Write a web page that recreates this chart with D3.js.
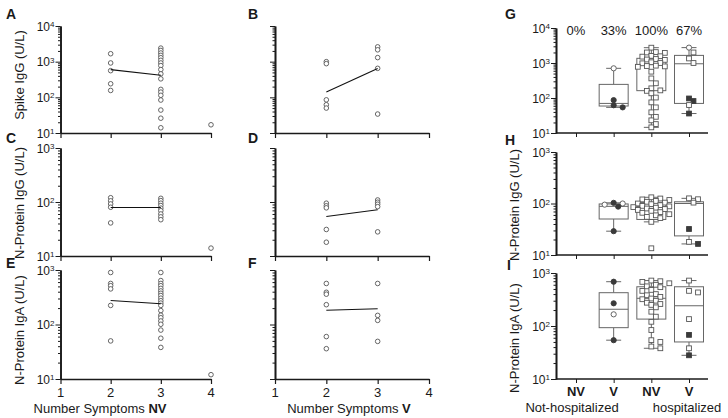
<!DOCTYPE html>
<html><head><meta charset="utf-8">
<script src="https://cdn.jsdelivr.net/npm/d3@7"></script>
<style>body{margin:0;background:#fff}svg{display:block;font-family:"Liberation Sans",Arial,sans-serif}</style>
</head><body><svg id="c" width="728" height="418"></svg>
<script>
// ---------------- DATA ----------------
const symptomTicks = [1, 2, 3, 4];
// [number of symptoms, value U/L]
const spikeNV = [[2,1670],[2,920],[2,560],[2,240],[2,156],
  [3,2400],[3,2060],[3,1750],[3,1500],[3,1290],[3,1090],[3,920],[3,775],[3,600],[3,455],[3,330],[3,167],[3,140],[3,114],[3,84],[3,44],[3,26],[3,14],
  [4,17]];
const spikeNVLine = [[2,600],[3,415]];
const spikeV = [[2,1000],[2,880],[2,85],[2,62],[2,50],[3,2600],[3,2150],[3,1300],[3,650],[3,34]];
const spikeVLine = [[2,140],[3,640]];
const nIgGNV = [[2,120],[2,105],[2,92],[2,80],[2,41],[3,117],[3,106],[3,95],[3,86],[3,77],[3,69],[3,60],[3,53],[3,47],[4,14]];
const nIgGNVLine = [[2,79],[3,79]];
const nIgGV = [[2,95],[2,85],[2,78],[2,31],[2,18],[3,109],[3,99],[3,91],[3,82],[3,28]];
const nIgGVLine = [[2,54],[3,72]];
const nIgANV = [[2,900],[2,566],[2,515],[2,450],[2,224],[2,50],
  [3,900],[3,640],[3,566],[3,515],[3,460],[3,413],[3,374],[3,340],[3,304],[3,273],[3,247],[3,224],[3,180],[3,148],[3,133],[3,116],[3,101],[3,79],[3,56],[3,38],
  [4,12]];
const nIgANVLine = [[2,275],[3,240]];
const nIgAV = [[2,566],[2,390],[2,360],[2,231],[2,60],[2,36],[3,566],[3,147],[3,119],[3,49]];
const nIgAVLine = [[2,183],[3,195]];

const groups = ["NV-nh", "V-nh", "NV-h", "V-h"];
const groupLabels = ["NV", "V", "NV", "V"];
const percentLabels = ["0%", "33%", "100%", "67%"];
// box stats per group: [min, q1, median, q3, max]
const spikeBox = [null, [54,59,70,245,705], [14.5,162,900,1360,2740], [36,70,950,1650,2750]];
const nIgGBox  = [null, [29,50,88,98,103], [44,49,87,105,132], [16.4,23.5,100,108,126]];
const nIgABox  = [null, [54,93,207,425,685], [38,135,333,550,720], [28,50,241,550,720]];
// points per group: [value, marker]  oc=open circle, fc=filled circle, os=open square, fs=filled square
const spikePts = [[],
  [[705,"oc"],[87,"fc"],[62,"fc"],[54,"fc"]],
  [2740,2050,2000,1950,1600,1560,1520,1300,1260,1230,1050,1000,980,840,820,800,780,565,363,263,189,165,160,136,103,75,54,39,29,23,18,14.5].map(v=>[v,"os"]),
  [[2750,"oc"],[2000,"os"],[1350,"os"],[1000,"os"],[97,"fs"],[82,"fs"],[63,"os"],[36,"fs"]]];
const nIgGPts = [[],
  [[103,"fc"],[100,"oc"],[95,"oc"],[87,"fc"],[29,"fc"]],
  [132,125,120,117,112,108,104,100,97,93,90,88,85,83,80,78,75,72,68,66,62,59,55,52,44,13.5].map(v=>[v,"os"]),
  [[126,"os"],[121,"os"],[104,"os"],[32,"fs"],[18,"os"],[16.4,"fs"]]];
const nIgAPts = [[],
  [[685,"fc"],[268,"fc"],[166,"oc"],[54,"fc"]],
  [720,700,680,640,600,560,540,480,460,400,380,355,330,320,300,275,260,250,225,186,150,120,84,54,50,41,38].map(v=>[v,"os"]),
  [[720,"os"],[460,"os"],[430,"os"],[135,"os"],[68,"fs"],[38,"os"],[28,"fs"]]];

// ---------------- DRAWING ----------------
const svg = d3.select("#c");
const INK = "#1a1a1a", PT = "#555", DARK = "#3a3a3a";

function logTicks(y){
  const [lo, hi] = y.domain();
  const majors = [], minors = [];
  for (let e = Math.round(Math.log10(lo)); e <= Math.round(Math.log10(hi)); e++){
    majors.push(Math.pow(10, e));
    if (e < Math.round(Math.log10(hi))) for (let m = 2; m <= 9; m++) minors.push(m*Math.pow(10, e));
  }
  return {majors, minors};
}
function yAxis(x0, y, showLabels){
  const {majors, minors} = logTicks(y);
  const g = svg.append("g").attr("transform", `translate(${x0},0)`);
  g.append("g").call(d3.axisLeft(y).tickValues(minors).tickSize(2.5).tickSizeOuter(0).tickFormat(""));
  const gm = g.append("g").call(d3.axisLeft(y).tickValues(majors).tickSize(5).tickSizeOuter(0).tickFormat(""));
  g.selectAll("path.domain").attr("stroke", INK).attr("stroke-width", 1.6);
  g.selectAll(".tick line").attr("stroke", INK);
  if (showLabels){
    gm.selectAll(".tick").each(function(d){
      const t = d3.select(this).append("text").attr("x", -6).attr("dy", "0.35em")
        .attr("text-anchor", "end").attr("fill", INK).attr("font-size", 12);
      t.append("tspan").text("10");
      t.append("tspan").attr("dy", "-0.45em").attr("font-size", 8).text(Math.round(Math.log10(d)));
    });
  }
}
function xAxisNum(x, yPos){
  const g = svg.append("g").attr("transform", `translate(0,${yPos})`)
    .call(d3.axisBottom(x).tickValues(symptomTicks).tickSize(5).tickSizeOuter(0).tickFormat(""));
  g.select("path.domain").attr("stroke", INK).attr("stroke-width", 1.6);
  g.selectAll(".tick line").attr("stroke", INK).attr("stroke-width", 1.2);
}
function scatterPanel(x, y, pts, line, labels){
  yAxis(x.range()[0], y, labels);
  xAxisNum(x, y.range()[0]);
  svg.append("g").selectAll("circle").data(pts).join("circle")
    .attr("cx", d => x(d[0])).attr("cy", d => y(d[1])).attr("r", 2.3)
    .attr("fill", "#fff").attr("stroke", PT).attr("stroke-width", 0.9);
  svg.append("path").datum(line)
    .attr("d", d3.line().x(d => x(d[0])).y(d => y(d[1])))
    .attr("stroke", "#111").attr("stroke-width", 1.1).attr("fill", "none");
}

// Left & middle columns
const xL = d3.scaleLinear().domain([1,4]).range([60.5, 211]);
const xM = d3.scaleLinear().domain([1,4]).range([275, 429]);
const yA = d3.scaleLog().domain([10, 1e4]).range([133, 26]);
const yC = d3.scaleLog().domain([10, 1e3]).range([256, 148]);
const yE = d3.scaleLog().domain([10, 1e3]).range([379, 270]);

scatterPanel(xL, yA, spikeNV, spikeNVLine, true);
scatterPanel(xM, yA, spikeV, spikeVLine, false);
scatterPanel(xL, yC, nIgGNV, nIgGNVLine, true);
scatterPanel(xM, yC, nIgGV, nIgGVLine, false);
scatterPanel(xL, yE, nIgANV, nIgANVLine, true);
scatterPanel(xM, yE, nIgAV, nIgAVLine, false);
// numeric labels on bottom panels
[xL, xM].forEach(x => {
  svg.append("g").selectAll("text").data(symptomTicks).join("text")
    .attr("x", d => x(d)).attr("y", 397).attr("text-anchor", "middle")
    .attr("font-size", 13).attr("fill", INK).text(d => d);
});

// Right column
const xR = d3.scalePoint().domain(groups).range([576, 689]);
const yG = d3.scaleLog().domain([10, 1e4]).range([133, 28]);
const yH = d3.scaleLog().domain([10, 1e3]).range([255, 152]);
const yI = d3.scaleLog().domain([10, 1e3]).range([379, 273]);

function swarm(vals, y, d){
  const placed = [];
  return vals.map(v => {
    const py = y(v);
    let off = 0;
    for (let k = 0; k < 30; k++){
      const c = k === 0 ? 0 : (k % 2 ? 1 : -1) * Math.ceil(k/2) * d * 0.9;
      if (placed.every(p => Math.hypot(p[0]-c, p[1]-py) >= d)) { off = c; break; }
    }
    placed.push([off, py]);
    return off;
  });
}
function boxPanel(y, boxes, pts){
  const x0 = 556;
  yAxis(x0, y, true);
  const gx = svg.append("g").attr("transform", `translate(0,${y.range()[0]})`)
    .call(d3.axisBottom(xR).tickSize(4).tickSizeOuter(0).tickFormat(""));
  gx.select("path.domain").attr("d", `M${x0},0H708`).attr("stroke", INK).attr("stroke-width", 1.6);
  gx.selectAll(".tick line").attr("stroke", INK);
  const bw = 29, cw = 15;
  groups.forEach((gname, i) => {
    const b = boxes[i]; if (!b) return;
    const cx = xR(gname);
    const g = svg.append("g").attr("stroke", "#666").attr("fill", "none").attr("stroke-width", 1);
    g.append("line").attr("x1", cx).attr("x2", cx).attr("y1", y(b[0])).attr("y2", y(b[1]));
    g.append("line").attr("x1", cx).attr("x2", cx).attr("y1", y(b[3])).attr("y2", y(b[4]));
    g.append("line").attr("x1", cx-cw/2).attr("x2", cx+cw/2).attr("y1", y(b[0])).attr("y2", y(b[0]));
    g.append("line").attr("x1", cx-cw/2).attr("x2", cx+cw/2).attr("y1", y(b[4])).attr("y2", y(b[4]));
    g.append("rect").attr("x", cx-bw/2).attr("width", bw).attr("y", y(b[3])).attr("height", y(b[1]) - y(b[3])).attr("fill", "#fff");
    g.append("line").attr("x1", cx-bw/2).attr("x2", cx+bw/2).attr("y1", y(b[2])).attr("y2", y(b[2]));
    const p = pts[i].slice().sort((a, c) => c[0] - a[0]);
    const offs = swarm(p.map(d => d[0]), y, 5);
    const pg = svg.append("g");
    p.forEach((d, k) => {
      const px = cx + offs[k], py = y(d[0]);
      const filled = d[1][0] === "f";
      let el;
      if (d[1][1] === "c") el = pg.append("circle").attr("cx", px).attr("cy", py).attr("r", 2.6);
      else el = pg.append("rect").attr("x", px-2.4).attr("y", py-2.4).attr("width", 4.8).attr("height", 4.8);
      el.attr("fill", filled ? DARK : "#fff").attr("stroke", filled ? DARK : "#555").attr("stroke-width", 0.9);
    });
  });
}
boxPanel(yG, spikeBox, spikePts);
boxPanel(yH, nIgGBox, nIgGPts);
boxPanel(yI, nIgABox, nIgAPts);

// percent labels
svg.append("g").selectAll("text").data(groups).join("text")
  .attr("x", d => xR(d)).attr("y", 35).attr("text-anchor", "middle")
  .attr("font-size", 13).attr("fill", INK).text((d, i) => percentLabels[i]);
// group labels
svg.append("g").selectAll("text").data(groups).join("text")
  .attr("x", d => xR(d)).attr("y", 396).attr("text-anchor", "middle")
  .attr("font-size", 13).attr("font-weight", "bold").attr("fill", INK).text((d, i) => groupLabels[i]);
svg.append("text").attr("x", 572).attr("y", 412).attr("text-anchor", "middle").attr("font-size", 13).attr("fill", INK).text("Not-hospitalized");
svg.append("text").attr("x", 687).attr("y", 412).attr("text-anchor", "middle").attr("font-size", 13).attr("fill", INK).text("hospitalized");

// axis titles
function yTitle(x, y, txt){
  svg.append("text").attr("transform", `translate(${x},${y}) rotate(-90)`).attr("text-anchor", "middle")
    .attr("font-size", 13).attr("fill", INK).text(txt);
}
yTitle(24, 75, "Spike IgG (U/L)");
yTitle(24, 203, "N-Protein IgG (U/L)");
yTitle(24, 330, "N-Protein IgA (U/L)");
yTitle(519, 205, "N-Protein IgG (U/L)");
yTitle(519, 338, "N-Protein IgA (U/L)");

function xTitle(cx, bold){
  const t = svg.append("text").attr("x", cx).attr("y", 413).attr("text-anchor", "middle").attr("font-size", 13).attr("fill", INK);
  t.append("tspan").text("Number Symptoms ");
  t.append("tspan").attr("font-weight", "bold").text(bold);
}
xTitle(100, "NV");
xTitle(349, "V");

// panel letters
const letters = [["A",6,19],["B",248,19],["G",505,19],["C",6,143],["D",248,143],["H",505,145],["E",6,268],["F",248,268],["I",507,270]];
svg.append("g").selectAll("text").data(letters).join("text")
  .attr("x", d => d[1]).attr("y", d => d[2]).attr("font-size", 14).attr("font-weight", "bold").attr("fill", INK).text(d => d[0]);
</script>
</body></html>
